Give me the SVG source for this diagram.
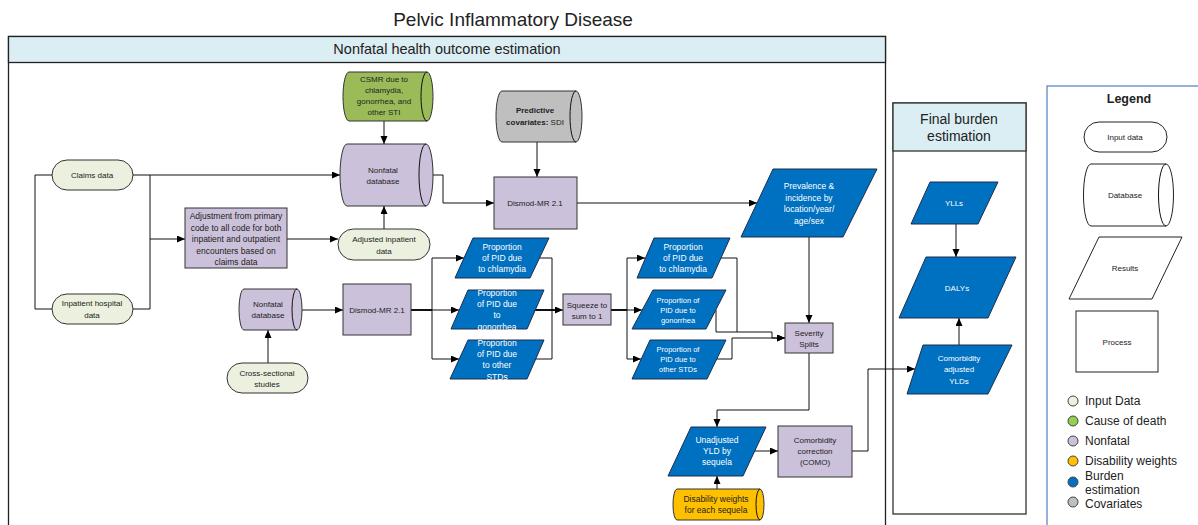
<svg xmlns="http://www.w3.org/2000/svg" width="1198" height="525" viewBox="0 0 1198 525">
<style>
text{font-family:"Liberation Sans",Arial,sans-serif;fill:#222;text-anchor:middle}
.t{font-size:8px}
.t85{font-size:8.5px}
.t75{font-size:7.5px}
.w{fill:#fff}
.inp{fill:#EBF1DE;stroke:#333;stroke-width:1}
.pur{fill:#CCC1DA;stroke:#333;stroke-width:1}
.blu{fill:#0070C0;stroke:#1F2D4A;stroke-width:1}
.grn{fill:#9BBB59;stroke:#333;stroke-width:1}
.gry{fill:#BFBFBF;stroke:#333;stroke-width:1}
.org{fill:#FFC000;stroke:#333;stroke-width:1}
.wht{fill:#fff;stroke:#222;stroke-width:1}
.c{fill:none;stroke:#111;stroke-width:1}
.ca{fill:none;stroke:#111;stroke-width:1;marker-end:url(#ah)}
.thick{fill:none;stroke:#111;stroke-width:2}
.lg{font-size:12px;text-anchor:start}
</style>
<defs>
<marker id="ah" markerUnits="userSpaceOnUse" markerWidth="9" markerHeight="8" refX="8" refY="3.5" orient="auto"><path d="M0,0 L8,3.5 L0,7 z" fill="#000"/></marker>
</defs>
<rect width="1198" height="525" fill="#fff"/>
<text x="513" y="26" style="font-size:19px">Pelvic Inflammatory Disease</text>

<g id="lane-nonfatal">
<rect x="8.5" y="36.5" width="877" height="500" fill="#fff" stroke="#222" stroke-width="1.3"/>
<rect x="8.5" y="36.5" width="877" height="26" fill="#DAEEF3" stroke="#222" stroke-width="1.3"/>
<text x="447" y="54" style="font-size:14.5px">Nonfatal health outcome estimation</text>
</g>
<g id="lane-final">
<rect x="893" y="103" width="133" height="411" fill="#fff" stroke="#333" stroke-width="1.3"/>
<rect x="893" y="103" width="133" height="48" fill="#DAEEF3" stroke="#333" stroke-width="1.3"/>
<text x="959" y="124" style="font-size:14px">Final burden</text>
<text x="959" y="141" style="font-size:14px">estimation</text>
</g>

<g id="connectors">
<path class="ca" d="M133,175 H340"/>
<path class="c" d="M133,309 H150 V175"/>
<path class="ca" d="M150,239 H185"/>
<path class="c" d="M52,175 H35 V309 H52"/>
<path class="ca" d="M287,239 H338"/>
<path class="ca" d="M384,229 V206"/>
<path class="ca" d="M384,121 V144"/>
<path class="ca" d="M433,175 H443 V203 H494"/>
<path class="ca" d="M537,142 V177"/>
<path class="ca" d="M577,203 H757"/>
<path class="ca" d="M809,237 V323"/>
<path class="ca" d="M302,310 H343"/>
<path class="ca" d="M268,363 V330"/>
<path class="thick" d="M411,310 H432"/>
<path class="c" d="M432,258 V359"/>
<path class="ca" d="M432,258 H464"/>
<path class="ca" d="M432,310 H459"/>
<path class="ca" d="M432,359 H459"/>
<path class="c" d="M539,258 H552 V359 H536"/>
<path class="thick" d="M535,310 H556"/>
<path class="ca" d="M552,310 H563"/>
<path class="thick" d="M611,310 H627"/>
<path class="c" d="M627,258 V359"/>
<path class="ca" d="M627,258 H645"/>
<path class="ca" d="M627,310 H642"/>
<path class="ca" d="M627,359 H641"/>
<path class="ca" d="M721,258 H737 V332 H772 V338 H785"/>
<path class="c" d="M716,310 V332 H737"/>
<path class="ca" d="M717,359 H732 V338 H785"/>
<path class="ca" d="M809,353 V410 H717 V427"/>
<path class="ca" d="M755,451 H778"/>
<path class="ca" d="M717,489 V476"/>
<path class="ca" d="M852,451 H868 V369 H915"/>
<path class="ca" d="M956,224 V257"/>
<path class="ca" d="M959,345 V318"/>
</g>

<g id="claims-data">
<rect class="inp" x="52" y="160" width="81" height="30" rx="15"/>
<text class="t" x="92" y="178">Claims data</text>
</g>
<g id="inpatient-hospital-data">
<rect class="inp" x="52" y="294" width="81" height="30" rx="15"/>
<text class="t" x="92" y="306">Inpatient hospital</text>
<text class="t" x="92" y="318">data</text>
</g>
<g id="adjustment">
<rect class="pur" x="185" y="208" width="102" height="60"/>
<text class="t85" x="236" y="219">Adjustment from primary</text>
<text class="t85" x="236" y="230.5">code to all code for both</text>
<text class="t85" x="236" y="242">inpatient and outpatient</text>
<text class="t85" x="236" y="253.5">encounters based on</text>
<text class="t85" x="236" y="265">claims data</text>
</g>
<g id="adjusted-inpatient-data">
<rect class="inp" x="338" y="229" width="92" height="31" rx="15.5"/>
<text class="t" x="384" y="242">Adjusted inpatient</text>
<text class="t" x="384" y="254">data</text>
</g>
<g id="csmr">
<path class="grn" d="M349,72 H427 A6,24.5 0 0 1 427,121 H349 A6,24.5 0 0 1 349,72 Z"/>
<path class="c" d="M427,72 A6,24.5 0 0 0 427,121"/>
<text class="t" x="384" y="82">CSMR due to</text>
<text class="t" x="384" y="93">chlamydia,</text>
<text class="t" x="384" y="104">gonorrhea, and</text>
<text class="t" x="384" y="115">other STI</text>
</g>
<g id="nonfatal-db-1">
<path class="pur" d="M347,144 H426 A7,31 0 0 1 426,206 H347 A7,31 0 0 1 347,144 Z"/>
<path class="c" d="M426,144 A7,31 0 0 0 426,206"/>
<text class="t" x="383" y="173">Nonfatal</text>
<text class="t" x="383" y="184">database</text>
</g>
<g id="predictive-covariates">
<path class="gry" d="M502,91 H576 A6,25.5 0 0 1 576,142 H502 A6,25.5 0 0 1 502,91 Z"/>
<path class="c" d="M576,91 A6,25.5 0 0 0 576,142"/>
<text class="t" x="535" y="113" style="font-weight:bold">Predictive</text>
<text class="t" x="535" y="125"><tspan style="font-weight:bold">covariates:</tspan> SDI</text>
</g>
<g id="dismod-1">
<rect class="pur" x="494" y="177" width="83" height="52"/>
<text class="t" x="535" y="206">Dismod-MR 2.1</text>
</g>
<g id="prevalence">
<polygon class="blu" points="773,169 877,169 843,237 741,237"/>
<text class="t85 w" x="809" y="189">Prevalence &amp;</text>
<text class="t85 w" x="809" y="200.5">incidence by</text>
<text class="t85 w" x="809" y="212">location/year/</text>
<text class="t85 w" x="809" y="223.5">age/sex</text>
</g>
<g id="nonfatal-db-2">
<path class="pur" d="M244,289 H297 A5,20.5 0 0 1 297,330 H244 A5,20.5 0 0 1 244,289 Z"/>
<path class="c" d="M297,289 A5,20.5 0 0 0 297,330"/>
<text class="t" x="268" y="307">Nonfatal</text>
<text class="t" x="268" y="318">database</text>
</g>
<g id="cross-sectional">
<rect class="inp" x="227" y="363" width="81" height="30" rx="15"/>
<text class="t" x="267" y="376">Cross-sectional</text>
<text class="t" x="267" y="387">studies</text>
</g>
<g id="dismod-2">
<rect class="pur" x="343" y="284" width="68" height="51"/>
<text class="t" x="377" y="313">Dismod-MR 2.1</text>
</g>
<g id="prop-chlamydia-1">
<polygon class="blu" points="473,238 549,238 530,278 455,278"/>
<text class="t85 w" x="502" y="250">Proportion</text>
<text class="t85 w" x="502" y="261">of PID due</text>
<text class="t85 w" x="502" y="272">to chlamydia</text>
</g>
<g id="prop-gonorrhea-1">
<polygon class="blu" points="468,290 544,290 527,329 451,329"/>
<text class="t85 w" x="497" y="296">Proportion</text>
<text class="t85 w" x="497" y="307">of PID due</text>
<text class="t85 w" x="497" y="318">to</text>
<text class="t85 w" x="497" y="330">gonorrhea</text>
</g>
<g id="prop-other-1">
<polygon class="blu" points="468,340 544,340 527,379 450,379"/>
<text class="t85 w" x="497" y="346">Proportion</text>
<text class="t85 w" x="497" y="357">of PID due</text>
<text class="t85 w" x="497" y="368">to other</text>
<text class="t85 w" x="497" y="380">STDs</text>
</g>
<g id="squeeze">
<rect class="pur" x="563" y="294" width="48" height="31"/>
<text class="t" x="587" y="308">Squeeze to</text>
<text class="t" x="587" y="318.5">sum to 1</text>
</g>
<g id="prop-chlamydia-2">
<polygon class="blu" points="654,238 730,238 712,278 637,278"/>
<text class="t85 w" x="683" y="250">Proportion</text>
<text class="t85 w" x="683" y="261">of PID due</text>
<text class="t85 w" x="683" y="272">to chlamydia</text>
</g>
<g id="prop-gonorrhea-2">
<polygon class="blu" points="653,290 726,290 706,329 632,329"/>
<text class="t75 w" x="678" y="302.5">Proportion of</text>
<text class="t75 w" x="678" y="312.5">PID due to</text>
<text class="t75 w" x="678" y="322.5">gonorrhea</text>
</g>
<g id="prop-other-2">
<polygon class="blu" points="650,340 726,340 707,379 632,379"/>
<text class="t75 w" x="678" y="351.5">Proportion of</text>
<text class="t75 w" x="678" y="361.5">PID due to</text>
<text class="t75 w" x="678" y="371.5">other STDs</text>
</g>
<g id="severity-splits">
<rect class="pur" x="785" y="323" width="48" height="30"/>
<text class="t" x="809" y="336">Severity</text>
<text class="t" x="809" y="347">Splits</text>
</g>
<g id="unadjusted-yld">
<polygon class="blu" points="691,427 766,427 743,476 668,476"/>
<text class="t85 w" x="717" y="443">Unadjusted</text>
<text class="t85 w" x="717" y="454">YLD by</text>
<text class="t85 w" x="717" y="465">sequela</text>
</g>
<g id="como">
<rect class="pur" x="778" y="426" width="74" height="51"/>
<text class="t" x="815" y="443">Comorbidity</text>
<text class="t" x="815" y="454">correction</text>
<text class="t" x="815" y="465">(COMO)</text>
</g>
<g id="disability-weights">
<path class="org" d="M677,489 H760 A4,15.5 0 0 1 760,520 H677 A4,15.5 0 0 1 677,489 Z"/>
<path class="c" d="M760,489 A4,15.5 0 0 0 760,520"/>
<text class="t85" x="716" y="502">Disability weights</text>
<text class="t85" x="716" y="513">for each sequela</text>
</g>
<g id="ylls">
<polygon class="blu" points="930,182 998,182 978,224 911,224"/>
<text class="t w" x="954" y="206">YLLs</text>
</g>
<g id="dalys">
<polygon class="blu" points="926,257 1016,257 988,318 899,318"/>
<text class="t w" x="957" y="291">DALYs</text>
</g>
<g id="comorbidity-adjusted-ylds">
<polygon class="blu" points="923,345 1012,345 988,394 907,394"/>
<text class="t w" x="959" y="361">Comorbidity</text>
<text class="t w" x="959" y="372">adjusted</text>
<text class="t w" x="959" y="384">YLDs</text>
</g>

<g id="legend">
<rect x="1047" y="86" width="160" height="450" fill="#fff" stroke="#4F81BD" stroke-width="1.2"/>
<text x="1129" y="103" style="font-size:12.5px;font-weight:bold">Legend</text>
<rect class="wht" x="1084" y="122" width="83" height="30" rx="15"/>
<text class="t" x="1125" y="140">Input data</text>
<path class="wht" d="M1091,164 H1166 A7.5,31 0 0 1 1166,226 H1091 A7.5,31 0 0 1 1091,164 Z"/>
<path class="c" d="M1166,164 A7.5,31 0 0 0 1166,226"/>
<text class="t" x="1125" y="198">Database</text>
<polygon class="wht" points="1099,237 1182,237 1152,299 1069,299"/>
<text class="t" x="1125" y="271">Results</text>
<rect class="wht" x="1076" y="311" width="82" height="61"/>
<text class="t" x="1117" y="345">Process</text>
<circle cx="1073" cy="401" r="5" fill="#EBF1DE" stroke="#444"/>
<text class="lg" x="1085" y="405">Input Data</text>
<circle cx="1073" cy="421" r="5" fill="#92D050" stroke="#444"/>
<text class="lg" x="1085" y="425">Cause of death</text>
<circle cx="1073" cy="441" r="5" fill="#CCC1DA" stroke="#444"/>
<text class="lg" x="1085" y="445">Nonfatal</text>
<circle cx="1073" cy="461" r="5" fill="#FFC000" stroke="#444"/>
<text class="lg" x="1085" y="465">Disability weights</text>
<circle cx="1073" cy="482" r="5" fill="#0070C0" stroke="#444"/>
<text class="lg" x="1085" y="479.5">Burden</text>
<text class="lg" x="1085" y="493.5">estimation</text>
<circle cx="1073" cy="502" r="5" fill="#BFBFBF" stroke="#444"/>
<text class="lg" x="1085" y="507.5">Covariates</text>
</g>
</svg>
